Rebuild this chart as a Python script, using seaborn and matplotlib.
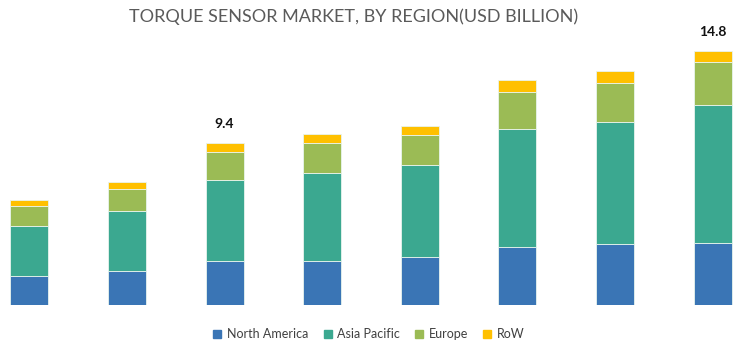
import matplotlib
matplotlib.use("Agg")
import matplotlib.pyplot as plt
import seaborn as sns
import pandas as pd
from matplotlib.lines import Line2D

years = ["2016", "2017", "2018", "2019", "2020", "2021", "2022", "2023"]
north_america = [1.66, 1.95, 2.58, 2.58, 2.78, 3.38, 3.53, 3.63]
asia_pacific = [2.93, 3.51, 4.70, 5.12, 5.37, 6.85, 7.14, 8.01]
europe = [1.15, 1.28, 1.63, 1.73, 1.75, 2.19, 2.27, 2.50]
row = [0.35, 0.39, 0.54, 0.52, 0.52, 0.68, 0.68, 0.66]
regions = ["North America", "Asia Pacific", "Europe", "RoW"]
colors = ["#3A75B5", "#3BA890", "#9BBB55", "#FFC000"]
value_labels = {2: "9.4", 7: "14.8"}
title = "TORQUE SENSOR MARKET, BY REGION(USD BILLION)"

series = [north_america, asia_pacific, europe, row]
rows = []
for reg, vals in zip(regions, series):
    for i, v in enumerate(vals):
        rows.append({"pos": i, "region": reg, "value": v})
df = pd.DataFrame(rows)

sns.set_theme(style="white")
plt.rcParams["font.family"] = ["Lato", "DejaVu Sans"]

fig = plt.figure(figsize=(7.42, 3.51), dpi=100)
ax = fig.add_axes([0, 46 / 351, 1, 305 / 351])

sns.histplot(
    data=df, x="pos", weights="value", hue="region",
    hue_order=regions[::-1], palette=dict(zip(regions, colors)),
    multiple="stack", discrete=True, shrink=0.39, alpha=1,
    edgecolor="#e8f4ee", linewidth=0.6, legend=False, ax=ax,
)
ax.set_xlim(-0.3, 7.3)
ax.set_ylim(0, 17.75)
ax.axis("off")

totals = [sum(v) for v in zip(*series)]
for i, lab in value_labels.items():
    ax.text(i, totals[i] + 0.75, lab, ha="center", va="bottom",
            fontsize=10, fontweight="bold", color="#111111")

fig.text(354 / 742, 1 - 17 / 351, title, ha="center", va="center",
         fontsize=13, color="#5a5a5a")

handles = [Line2D([], [], marker="s", linestyle="none", markersize=5.5,
                  markerfacecolor=c, markeredgecolor=c) for c in colors]
fig.legend(handles, regions, loc="center", bbox_to_anchor=(369 / 742, 1 - 334.5 / 351),
           ncol=4, frameon=False, fontsize=9, handlelength=0.6,
           handletextpad=0.45, columnspacing=1.25, labelcolor="#404040")

fig.savefig("out.png", dpi=100)
